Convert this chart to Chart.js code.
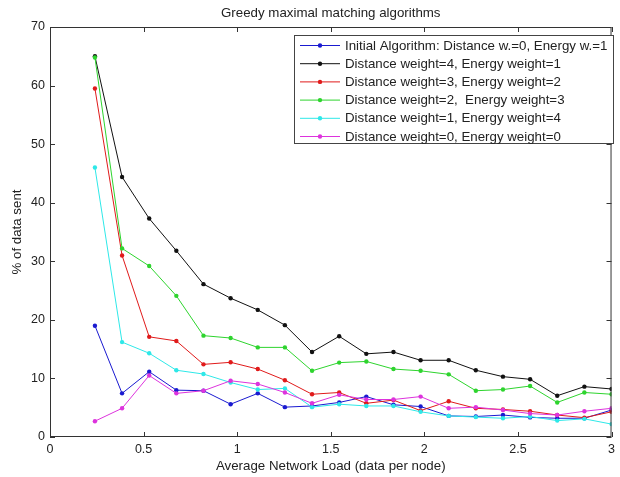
<!DOCTYPE html>
<html>
<head>
<meta charset="utf-8">
<script src="https://cdn.jsdelivr.net/npm/chart.js@4"></script>
<style>
  html, body { margin: 0; padding: 0; background: #fff; }
  #wrap { width: 620px; height: 477px; }
</style>
</head>
<body>
<div id="wrap"><canvas id="c" width="620" height="477"></canvas></div>
<script>
// network load (data per node)
const loads = [0.24, 0.385, 0.53, 0.675, 0.82, 0.965, 1.11, 1.255, 1.40, 1.545,
  1.69, 1.835, 1.98, 2.13, 2.275, 2.42, 2.565, 2.71, 2.855, 3.0]

const initialAlg = [19.0, 7.45, 11.15, 8.0, 7.9, 5.6, 7.45, 5.1, 5.3, 5.9,
  6.9, 5.5, 5.2, 3.6, 3.5, 3.75, 3.35, 3.2, 3.2, 4.6]
const dist4en1 = [65.0, 44.4, 37.3, 31.8, 26.1, 23.7, 21.7, 19.1, 14.5, 17.2,
  14.2, 14.5, 13.1, 13.1, 11.4, 10.3, 9.85, 7.05, 8.6, 8.2]
const dist3en2 = [59.5, 31.0, 17.1, 16.4, 12.4, 12.75, 11.6, 9.7, 7.3, 7.6,
  5.75, 6.3, 4.5, 6.1, 4.9, 4.7, 4.4, 3.75, 3.3, 4.3]
const dist2en3 = [64.8, 32.2, 29.2, 24.1, 17.3, 16.9, 15.3, 15.3, 11.3, 12.7,
  12.9, 11.6, 11.3, 10.7, 7.9, 8.1, 8.7, 5.9, 7.6, 7.3]
const dist1en4 = [46.0, 16.2, 14.3, 11.4, 10.75, 9.3, 8.1, 8.3, 5.1, 5.6,
  5.3, 5.3, 4.3, 3.6, 3.4, 3.2, 3.5, 2.8, 3.1, 2.2]
const dist0en0 = [2.7, 4.9, 10.5, 7.45, 7.9, 9.6, 9.05, 7.6, 5.75, 7.2,
  6.4, 6.4, 6.9, 4.9, 5.1, 4.6, 4.0, 3.75, 4.4, 4.9]

const seriesNames = [
  'Initial Algorithm: Distance w.=0, Energy w.=1',
  'Distance weight=4, Energy weight=1',
  'Distance weight=3, Energy weight=2',
  'Distance weight=2,  Energy weight=3',
  'Distance weight=1, Energy weight=4',
  'Distance weight=0, Energy weight=0'
]
const seriesValues = [initialAlg, dist4en1, dist3en2, dist2en3, dist1en4, dist0en0]
const seriesColors = ['#1a1ad0', '#111111', '#e01a1a', '#2ed42e', '#2ee8e8', '#dd33dd']

const FONT = 'Liberation Sans, Arial, Helvetica, sans-serif'
const TXT = '#222'

const datasets = seriesValues.map((vals, i) => ({
  label: seriesNames[i],
  data: vals.map((v, k) => ({ x: loads[k], y: v })),
  borderColor: seriesColors[i],
  backgroundColor: seriesColors[i],
  borderWidth: 1,
  pointRadius: 2.2,
  pointBorderWidth: 0,
  tension: 0,
  order: seriesValues.length - i  // later series drawn on top, like matlab
}))

// box, inward ticks, titles and the legend in the plot corner
const matlabFrame = {
  id: 'matlabFrame',
  afterDatasetsDraw(chart) {
    const { ctx, chartArea: a, scales } = chart
    ctx.save()
    ctx.strokeStyle = '#333'
    ctx.lineWidth = 1
    ctx.strokeRect(a.left + 0.5, a.top + 0.5, a.right - a.left - 1, a.bottom - a.top - 1)

    const tl = 5
    ctx.beginPath()
    scales.x.ticks.forEach(t => {
      const px = Math.round(scales.x.getPixelForValue(t.value)) + 0.5
      ctx.moveTo(px, a.bottom); ctx.lineTo(px, a.bottom - tl)
      ctx.moveTo(px, a.top); ctx.lineTo(px, a.top + tl)
    })
    scales.y.ticks.forEach(t => {
      const py = Math.round(scales.y.getPixelForValue(t.value)) + 0.5
      ctx.moveTo(a.left, py); ctx.lineTo(a.left + tl, py)
      ctx.moveTo(a.right, py); ctx.lineTo(a.right - tl, py)
    })
    ctx.stroke()

    // titles
    ctx.fillStyle = TXT
    ctx.font = '13.3px ' + FONT
    ctx.textAlign = 'center'
    ctx.textBaseline = 'middle'
    const cx = (a.left + a.right) / 2
    ctx.fillText('Greedy maximal matching algorithms', cx, 13)
    ctx.fillText('Average Network Load (data per node)', cx, 466)
    ctx.save()
    ctx.translate(17, (a.top + a.bottom) / 2)
    ctx.rotate(-Math.PI / 2)
    ctx.fillText('% of data sent', 0, 0)
    ctx.restore()

    // legend
    const bx = 294, by = 35, bw = 319, bh = 108
    ctx.fillStyle = '#fff'
    ctx.fillRect(bx, by, bw, bh)
    ctx.strokeStyle = '#444'
    ctx.strokeRect(bx + 0.5, by + 0.5, bw, bh)
    ctx.font = '13.3px ' + FONT
    ctx.textAlign = 'left'
    chart.data.datasets.forEach((ds, i) => {
      const y = by + 10 + i * 18.2
      ctx.strokeStyle = ds.borderColor
      ctx.beginPath()
      ctx.moveTo(300, y + 0.5); ctx.lineTo(340, y + 0.5)
      ctx.stroke()
      ctx.fillStyle = ds.borderColor
      ctx.beginPath()
      ctx.arc(320, y + 0.5, 2.2, 0, Math.PI * 2)
      ctx.fill()
      ctx.fillStyle = TXT
      ctx.fillText(ds.label, 345, y + 1)
    })
    ctx.restore()
  }
}

new Chart(document.getElementById('c'), {
  type: 'line',
  data: { datasets },
  options: {
    responsive: false,
    animation: false,
    layout: { padding: { top: 27, right: 3, left: 0, bottom: 0 } },
    plugins: { legend: { display: false }, tooltip: { enabled: false } },
    scales: {
      x: {
        type: 'linear',
        min: 0, max: 3,
        grid: { display: false, tickLength: 0 },
        border: { display: false },
        ticks: {
          stepSize: 0.5, color: TXT, font: { size: 12.5, family: FONT }, padding: 5, maxRotation: 0,
          callback: v => String(v)
        },
        afterFit(s) { s.height = 40 }
      },
      y: {
        min: 0, max: 70,
        grid: { display: false, tickLength: 0 },
        border: { display: false },
        ticks: { stepSize: 10, color: TXT, font: { size: 12.5, family: FONT }, padding: 5 },
        afterFit(s) { s.width = 50 }
      }
    }
  },
  plugins: [matlabFrame]
})
</script>
</body>
</html>
